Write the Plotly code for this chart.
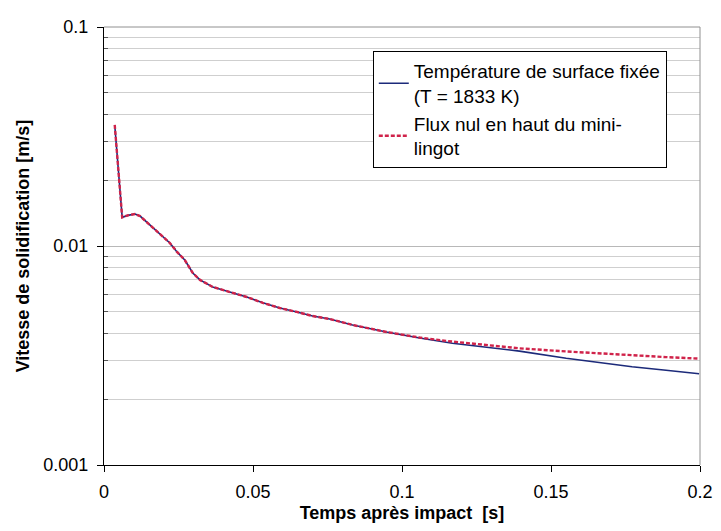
import plotly.graph_objects as go

# Data
time_s = [0.0036, 0.0061, 0.0080, 0.0104, 0.0121, 0.0154, 0.0188, 0.0221, 0.0245, 0.0271,
          0.0298, 0.0322, 0.0365, 0.0422, 0.0479, 0.0533, 0.0590, 0.0647, 0.0700, 0.0757,
          0.0834, 0.0948, 0.1059, 0.1169, 0.1283, 0.1394, 0.1551, 0.1662, 0.1772, 0.1886, 0.1997]

v_fixed_T = [0.0357, 0.01352, 0.0138, 0.0140, 0.0137, 0.01247, 0.01122, 0.01032, 0.0094, 0.00863,
             0.00753, 0.0070, 0.0065, 0.00617, 0.00585, 0.0055, 0.00521, 0.0050, 0.00479, 0.00464,
             0.00436, 0.00405, 0.0038, 0.0036, 0.00346, 0.00331, 0.00307, 0.00293, 0.00281, 0.00271, 0.00261]

v_zero_flux = [0.0357, 0.01352, 0.0138, 0.0140, 0.0137, 0.01247, 0.01122, 0.01032, 0.0094, 0.00863,
               0.00753, 0.0070, 0.0065, 0.00617, 0.00585, 0.0055, 0.00521, 0.0050, 0.00479, 0.00464,
               0.00436, 0.00405, 0.00382, 0.00366, 0.00352, 0.00341, 0.00330, 0.00323, 0.00316, 0.00311, 0.00306]

y_major = [0.001, 0.01, 0.1]
y_major_text = ["0.001", "0.01", "0.1"]
y_minor = [m * d for d in (0.001, 0.01) for m in range(2, 10)]
x_ticks = [0, 0.05, 0.1, 0.15, 0.2]
x_tick_text = ["0", "0.05", "0.1", "0.15", "0.2"]

name_a = "Température de surface fixée<br>(T = 1833 K)"
name_b = "Flux nul en haut du mini-<br>lingot"

fig = go.Figure()
fig.add_trace(go.Scatter(x=time_s, y=v_fixed_T, mode="lines", name=name_a,
                         line=dict(color="#1c2a7a", width=1.6)))
fig.add_trace(go.Scatter(x=time_s, y=v_zero_flux, mode="lines", name=name_b,
                         line=dict(color="#d0234a", width=2.4, dash="4px,2px")))

font_family = "Liberation Sans, Arial, sans-serif"

fig.update_layout(
    width=705, height=515,
    margin=dict(l=96, r=13, t=19, b=58, autoexpand=False),
    paper_bgcolor="white", plot_bgcolor="white",
    font=dict(family=font_family, color="black", size=18),
    showlegend=True,
    legend=dict(x=0.451, y=0.945, xanchor="left", yanchor="top",
                bgcolor="white", bordercolor="black", borderwidth=1,
                font=dict(size=19, family=font_family, color="black"),
                tracegroupgap=0),
    xaxis=dict(range=[0, 0.2], tickvals=x_ticks, ticktext=x_tick_text,
               automargin=True,
               showgrid=False, zeroline=False,
               showline=True, linecolor="black", linewidth=1.2,
               ticks="outside", ticklen=6, tickcolor="black",
               ticklabelstandoff=4,
               tickfont=dict(size=18),
               title=dict(text="<b>Temps après impact  [s]</b>", font=dict(size=18), standoff=8)),
    yaxis=dict(type="log", range=[-3, -1], tickvals=y_major, ticktext=y_major_text,
               automargin=False,
               showgrid=True, gridcolor="#b8b8b8", gridwidth=1,
               zeroline=False, showline=True, linecolor="black", linewidth=1.2,
               ticks="outside", ticklen=6, tickcolor="black",
               ticklabelstandoff=5,
               tickfont=dict(size=18),
               minor=dict(tickvals=y_minor, showgrid=True, gridcolor="#cfcfcf", gridwidth=1,
                          ticks="inside", ticklen=4, tickcolor="#555555"),
               title=dict(text="<b>Vitesse de solidification [m/s]</b>", font=dict(size=18), standoff=8)),
)

# gray frame on top and right of the plot area
fig.add_shape(type="line", xref="paper", yref="paper", x0=1, x1=1, y0=0, y1=1,
              line=dict(color="#909090", width=1))
fig.add_shape(type="line", xref="paper", yref="paper", x0=0, x1=1, y0=1, y1=1,
              line=dict(color="#909090", width=1))

fig.write_html("out.html")
